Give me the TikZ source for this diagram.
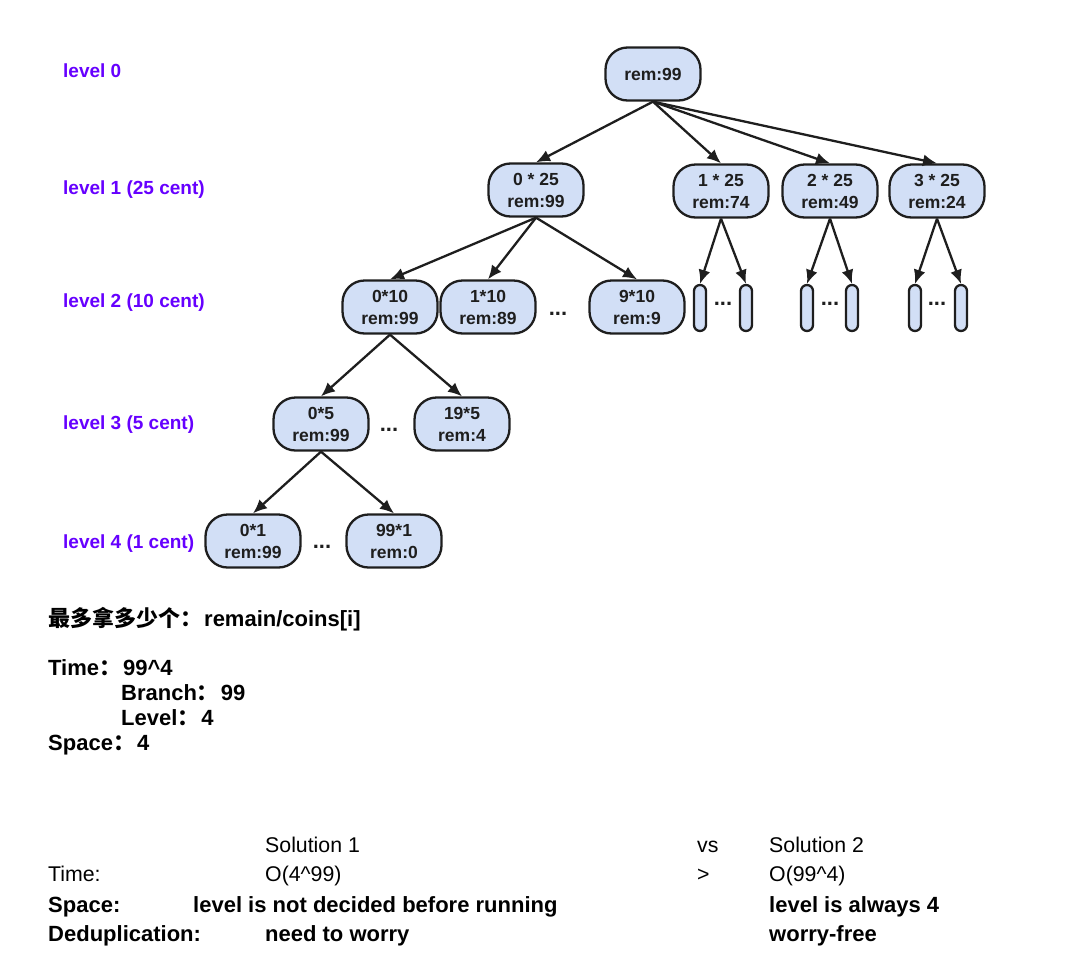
\documentclass[tikz,border=0pt]{standalone}
\usepackage{fontspec}
\setmainfont{Liberation Sans}
\newfontfamily\cjk{Noto Sans CJK SC}
\usetikzlibrary{arrows.meta}
\definecolor{nodefill}{RGB}{210,223,246}
\definecolor{nodeline}{RGB}{30,30,30}
\definecolor{lvlcol}{RGB}{102,0,255}
\newcommand{\cc}{{\cjk ：}\hspace{2pt}}
\begin{document}
\begin{tikzpicture}[x=1pt,y=-1pt,
  box/.style={draw=nodeline, line width=2.3pt, fill=nodefill, rounded corners=22pt, minimum width=95pt, minimum height=53pt, align=center, inner sep=0pt, font=\bfseries\fontsize{17.5}{22}\selectfont, text=nodeline},
  thinbox/.style={draw=nodeline, line width=2.3pt, fill=nodefill, rounded corners=6pt, minimum width=12pt, minimum height=46pt, inner sep=0pt},
  dotsnode/.style={font=\bfseries\fontsize{22}{24}\selectfont, text=nodeline, inner sep=0pt},
  lvl/.style={anchor=base west, inner sep=0pt, text=lvlcol, font=\bfseries\fontsize{19}{22}\selectfont},
  arr/.style={draw=nodeline, line width=2.3pt, -{Latex[length=14pt,width=12pt]}},
  btxt/.style={anchor=base west, inner sep=0pt, font=\bfseries\fontsize{22}{25}\selectfont},
  rtxt/.style={anchor=base west, inner sep=0pt, font=\fontsize{21.3}{25}\selectfont}
]
\path[use as bounding box] (0,0) rectangle (1083,972);

% level labels
\node[lvl] (l0) at (63,77) {level 0};
\node[lvl] (l1) at (63,194) {level 1 (25 cent)};
\node[lvl] (l2) at (63,307) {level 2 (10 cent)};
\node[lvl] (l3) at (63,429) {level 3 (5 cent)};
\node[lvl] (l4) at (63,548) {level 4 (1 cent)};

% tree nodes
\node[box] (root) at (653,74) {rem:99};
\node[box] (a0) at (536,190) {0 * 25\\rem:99};
\node[box] (a1) at (721,191) {1 * 25\\rem:74};
\node[box] (a2) at (830,191) {2 * 25\\rem:49};
\node[box] (a3) at (937,191) {3 * 25\\rem:24};

\node[box] (b0) at (390,307) {0*10\\rem:99};
\node[box] (b1) at (488,307) {1*10\\rem:89};
\node[box] (b2) at (637,307) {9*10\\rem:9};
\node[dotsnode] (bd) at (558,314) {...};

\node[thinbox] (t11) at (700,308) {};
\node[thinbox] (t12) at (746,308) {};
\node[dotsnode] (td1) at (723,304) {...};
\node[thinbox] (t21) at (807,308) {};
\node[thinbox] (t22) at (852,308) {};
\node[dotsnode] (td2) at (830,304) {...};
\node[thinbox] (t31) at (915,308) {};
\node[thinbox] (t32) at (961,308) {};
\node[dotsnode] (td3) at (937,304) {...};

\node[box] (c0) at (321,424) {0*5\\rem:99};
\node[box] (c1) at (462,424) {19*5\\rem:4};
\node[dotsnode] (cd) at (389,430) {...};

\node[box] (d0) at (253,541) {0*1\\rem:99};
\node[box] (d1) at (394,541) {99*1\\rem:0};
\node[dotsnode] (dd) at (322,547) {...};

% arrows
\foreach \c in {a0,a1,a2,a3} \draw[arr] (root.south) -- (\c.north);
\foreach \c in {b0,b1,b2} \draw[arr] (a0.south) -- (\c.north);
\draw[arr] (a1.south) -- (t11.north);
\draw[arr] (a1.south) -- (t12.north);
\draw[arr] (a2.south) -- (t21.north);
\draw[arr] (a2.south) -- (t22.north);
\draw[arr] (a3.south) -- (t31.north);
\draw[arr] (a3.south) -- (t32.north);
\draw[arr] (b0.south) -- (c0.north);
\draw[arr] (b0.south) -- (c1.north);
\draw[arr] (c0.south) -- (d0.north);
\draw[arr] (c0.south) -- (d1.north);

% notes
\node[btxt] (n1) at (48,626) {{\cjk 最多拿多少个}\cc remain/coins[i]};
\node[btxt] (n2) at (48,675) {Time\cc 99\^{}4};
\node[btxt] (n3) at (121,700) {Branch\cc 99};
\node[btxt] (n4) at (121,725) {Level\cc 4};
\node[btxt] (n5) at (48,750) {Space\cc 4};

% comparison table
\node[rtxt] (s1) at (265,852) {Solution 1};
\node[rtxt] (vs) at (697,852) {vs};
\node[rtxt] (s2) at (769,852) {Solution 2};
\node[rtxt] (tl) at (48,881) {Time:};
\node[rtxt] (o1) at (265,881) {O(4\^{}99)};
\node[rtxt] (gt) at (697,881) {>};
\node[rtxt] (o2) at (769,881) {O(99\^{}4)};
\node[btxt] (sp) at (48,912) {Space:};
\node[btxt] (sp1) at (193,912) {level is not decided before running};
\node[btxt] (sp2) at (769,912) {level is always 4};
\node[btxt] (dl) at (48,941) {Deduplication:};
\node[btxt] (dl1) at (265,941) {need to worry};
\node[btxt] (dl2) at (769,941) {worry-free};
\end{tikzpicture}
\end{document}
